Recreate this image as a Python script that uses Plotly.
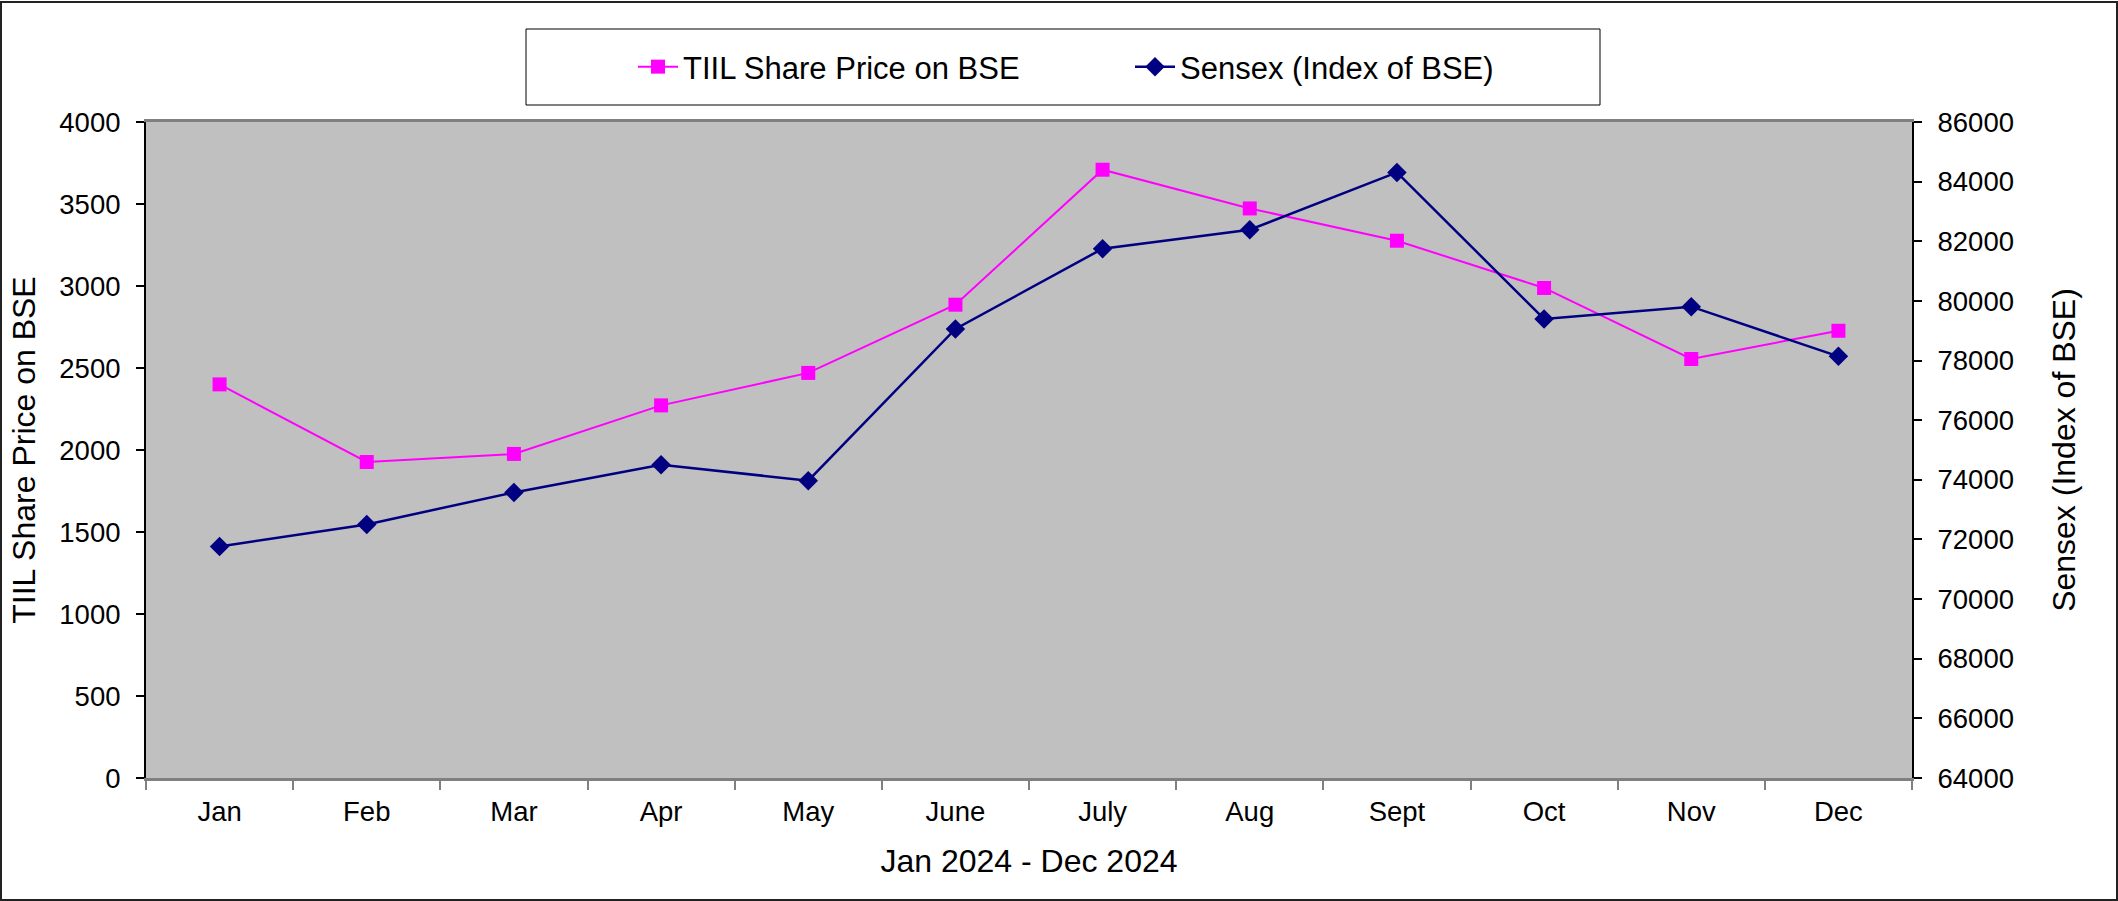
import plotly.graph_objects as go

months = ["Jan", "Feb", "Mar", "Apr", "May", "June", "July", "Aug", "Sept", "Oct", "Nov", "Dec"]
tiil_price = [2400, 1927, 1976, 2272, 2470, 2886, 3709, 3473, 3276, 2988, 2555, 2727]
sensex = [71767, 72505, 73578, 74507, 73971, 79058, 81751, 82388, 84310, 79393, 79806, 78140]

left_ticks = list(range(0, 4001, 500))
right_ticks = list(range(64000, 86001, 2000))

FONT = "Liberation Sans, Arial, sans-serif"
W, H = 2118, 901
ML, MR, MT, MB = 146, 206, 122, 123
PW = W - ML - MR
PH = H - MT - MB


def px_x(x):
    return (x - ML) / PW


def px_y(y):
    return (H - MB - y) / PH


fig = go.Figure()
fig.add_trace(go.Scatter(
    x=months, y=tiil_price, name="TIIL Share Price on BSE",
    mode="lines+markers",
    line=dict(color="#FF00FF", width=2),
    marker=dict(symbol="square", size=14, color="#FF00FF"),
    yaxis="y",
))
fig.add_trace(go.Scatter(
    x=months, y=sensex, name="Sensex (Index of BSE)",
    mode="lines+markers",
    line=dict(color="#000080", width=2.5),
    marker=dict(symbol="diamond", size=15, color="#000080"),
    yaxis="y2",
))

fig.update_layout(
    width=W, height=H,
    margin=dict(l=ML, r=MR, t=MT, b=MB, autoexpand=False),
    paper_bgcolor="white",
    plot_bgcolor="#C0C0C0",
    font=dict(family=FONT, size=27.5, color="black"),
    showlegend=True,
    legend=dict(
        orientation="h",
        x=px_x(633), xanchor="left",
        y=px_y(67), yanchor="middle",
        font=dict(family=FONT, size=31, color="black"),
        bgcolor="rgba(0,0,0,0)",
        borderwidth=0,
        entrywidth=442, entrywidthmode="pixels",
        itemwidth=40,
    ),
    xaxis=dict(
        type="category",
        categoryorder="array", categoryarray=months,
        range=[-0.5, 11.5],
        tickson="boundaries",
        ticks="outside", ticklen=9, tickwidth=2, tickcolor="#808080",
        showline=True, linecolor="#808080", linewidth=3, mirror=True,
        showgrid=False, zeroline=False,
        tickfont=dict(family=FONT, size=27.5, color="black"),
        ticklabelstandoff=7,
        title=dict(text="Jan 2024 - Dec 2024", font=dict(family=FONT, size=32, color="black"), standoff=24),
    ),
    yaxis=dict(
        range=[0, 4000], tickvals=left_ticks, tickformat="d",
        ticks="outside", ticklen=8, tickwidth=1.5, tickcolor="black",
        showline=True, linecolor="black", linewidth=2,
        showgrid=False, zeroline=False,
        tickfont=dict(family=FONT, size=27.5, color="black"),
        ticklabelstandoff=10,
        title=dict(text="TIIL Share Price on BSE", font=dict(family=FONT, size=32, color="black"), standoff=14),
    ),
    yaxis2=dict(
        range=[64000, 86000], tickvals=right_ticks, tickformat="d",
        overlaying="y", side="right", anchor="x",
        ticks="outside", ticklen=8, tickwidth=1.5, tickcolor="black",
        showline=True, linecolor="black", linewidth=2,
        showgrid=False, zeroline=False,
        tickfont=dict(family=FONT, size=27.5, color="black"),
        ticklabelstandoff=10,
        title=dict(text="Sensex (Index of BSE)", font=dict(family=FONT, size=32, color="black"), standoff=40),
    ),
    shapes=[
        dict(type="rect", xref="paper", yref="paper",
             x0=px_x(526), x1=px_x(1600), y0=px_y(105), y1=px_y(29),
             line=dict(color="black", width=1), fillcolor="rgba(0,0,0,0)", layer="above"),
        dict(type="rect", xref="paper", yref="paper",
             x0=px_x(1), x1=px_x(2117), y0=px_y(900), y1=px_y(2),
             line=dict(color="#222222", width=2), fillcolor="rgba(0,0,0,0)", layer="above"),
    ],
)

fig.write_html(
    "out.html",
    config={"displayModeBar": False},
    post_script="document.body.style.margin='0';document.body.style.overflow='hidden';",
)
